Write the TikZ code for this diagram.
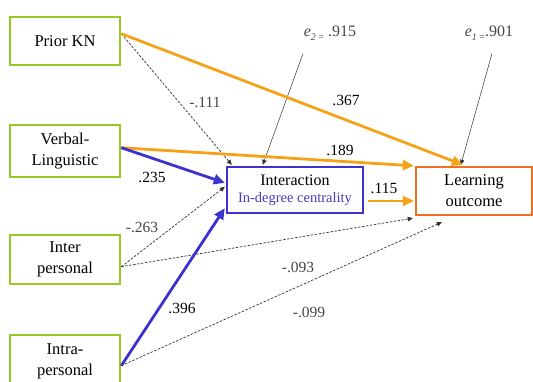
\documentclass[tikz,border=0pt]{standalone}
\usepackage{fontspec}
\setmainfont{Liberation Serif}
\usetikzlibrary{arrows.meta,calc}
\definecolor{boxgreen}{RGB}{150,200,40}
\definecolor{arrorange}{RGB}{246,162,24}
\definecolor{boxorange}{RGB}{240,112,32}
\definecolor{arrblue}{RGB}{60,50,205}
\definecolor{txtblue}{RGB}{70,60,190}
\definecolor{dashgray}{RGB}{50,50,50}
\definecolor{neggray}{RGB}{70,70,70}
\newcommand{\errsub}[1]{\raisebox{-4pt}{\fontsize{10}{10}\selectfont #1}}
\begin{document}
\begin{tikzpicture}[x=1pt,y=-1pt,
  srcbox/.style={draw=boxgreen,line width=2.6pt,minimum width=110pt,inner sep=0pt,align=center,font=\fontsize{16.5}{21}\selectfont},
  iabox/.style={draw=arrblue,line width=2.4pt,minimum width=136pt,minimum height=46pt,inner sep=0pt,align=center,font=\fontsize{16}{20}\selectfont},
  lobox/.style={draw=boxorange,line width=2.4pt,minimum width=116pt,minimum height=48pt,inner sep=0pt,align=center,font=\fontsize{16.5}{21}\selectfont},
  orarrow/.style={draw=arrorange,line width=2.8pt,-{Triangle[length=11pt,width=10pt]}},
  blarrow/.style={draw=arrblue,line width=2.8pt,-{Triangle[length=11pt,width=10pt]}},
  dasharrow/.style={draw=dashgray,line width=0.7pt,dash pattern=on 2.5pt off 1.5pt,-{Triangle[length=5pt,width=4.5pt]}},
  thinarrow/.style={draw=dashgray,line width=0.5pt,-{Triangle[length=5pt,width=4.5pt]}},
  poslbl/.style={font=\fontsize{15.5}{17}\selectfont,text=black,inner sep=0pt},
  neglbl/.style={font=\fontsize{15.5}{17}\selectfont,text=neggray,inner sep=0pt}
]
\useasboundingbox (0,0) rectangle (533,381);
\begin{scope}
\clip (0,0) rectangle (533,381);
% source boxes
\node[srcbox,minimum height=48pt] (pk) at (65,41) {Prior KN};
\node[srcbox,minimum height=52pt] (vl) at (65,151) {Verbal-\\Linguistic};
\node[srcbox,minimum height=49pt] (ip) at (65,259.5) {Inter\\personal};
\node[srcbox,minimum height=52pt] (ap) at (65,361) {Intra-\\personal};
% target boxes
\node[iabox] (ia) at (295,190) {Interaction\\[-3pt]{\color{txtblue}\fontsize{14.5}{17}\selectfont In-degree centrality}};
\node[lobox] (lo) at (474,191) {Learning\\outcome};
% error terms
\node[neglbl,font=\fontsize{16}{17}\selectfont] (e2) at (330,33) {\textit{e}\errsub{\textit{2} =} .915};
\node[neglbl,font=\fontsize{16}{17}\selectfont] (e1) at (489,33) {\textit{e}\errsub{\textit{1} =}.901};
\coordinate (e2s) at ($(e2.south)+(-27,13)$);
\coordinate (e1s) at ($(e1.south)+(3,13)$);
\draw[thinarrow] (e2s) -- ($(ia.north west)+(37,-1)$);
\draw[thinarrow] (e1s) -- ($(lo.north west)+(46,-1)$);
% Prior KN
\draw[dasharrow] ($(pk.north east)+(0,18)$) -- ($(ia.north west)+(6,-1)$);
\draw[orarrow] ($(pk.north east)+(0,18)$) -- ($(lo.north west)+(48,-1)$);
% Verbal
\draw[orarrow] ($(vl.north east)+(0,24)$) -- ($(lo.north west)+(-1,0)$);
\draw[blarrow] ($(vl.north east)+(0,24)$) -- ($(ia.north west)+(-1,17)$);
% Inter
\draw[dasharrow] ($(ip.north east)+(0,33)$) -- ($(ia.north west)+(-1,21)$);
\draw[dasharrow] ($(ip.north east)+(0,33)$) -- ($(lo.south west)+(-2,2)$);
% Intra
\draw[blarrow] ($(ap.north east)+(0,32)$) -- ($(ia.south west)+(-1,-6)$);
\draw[dasharrow] ($(ap.north east)+(0,32)$) -- ($(lo.south west)+(27,6)$);
% Interaction -> outcome
\draw[orarrow] ($(ia.east)+(4,11)$) -- ($(lo.west)+(-1,10)$);
\end{scope}
% labels
\node[neglbl] at (205,102) {-.111};
\node[poslbl] at (346,100) {.367};
\node[poslbl] at (340,150) {.189};
\node[poslbl] at (152,177) {.235};
\node[poslbl] at (384,188) {.115};
\node[neglbl] at (142,227) {-.263};
\node[neglbl] at (298,267) {-.093};
\node[poslbl] at (182,308) {.396};
\node[neglbl] at (309,312) {-.099};
\end{tikzpicture}
\end{document}
